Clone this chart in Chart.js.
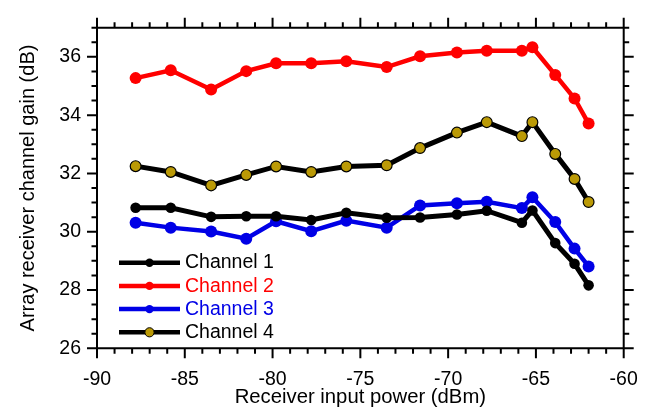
<!DOCTYPE html>
<html>
<head>
<meta charset="utf-8">
<script src="https://cdn.jsdelivr.net/npm/chart.js@4.4.1/dist/chart.umd.min.js"></script>
<style>
  html, body { margin: 0; padding: 0; background: #fff; }
  canvas { display: block; }
</style>
</head>
<body>
<canvas id="gainChart" width="657" height="414"></canvas>
<script>
// Receiver input power (dBm), shared by all channels
const powerIn = [-87.8, -85.8, -83.5, -81.5, -79.8, -77.8, -75.8, -73.5, -71.6, -69.5, -67.8, -65.8, -65.2, -63.9, -62.8, -62.0];

// Channel gain (dB)
const ch1 = [30.82, 30.82, 30.51, 30.53, 30.53, 30.40, 30.65, 30.48, 30.49, 30.59, 30.72, 30.31, 30.73, 29.61, 28.90, 28.16];
const ch2 = [35.27, 35.54, 34.88, 35.51, 35.78, 35.78, 35.85, 35.65, 36.02, 36.15, 36.21, 36.21, 36.33, 35.38, 34.57, 33.71];
const ch3 = [30.31, 30.14, 30.01, 29.76, 30.36, 30.02, 30.38, 30.14, 30.90, 30.98, 31.03, 30.81, 31.18, 30.33, 29.42, 28.81];
const ch4 = [32.25, 32.05, 31.59, 31.95, 32.24, 32.05, 32.24, 32.28, 32.87, 33.40, 33.76, 33.28, 33.76, 32.67, 31.81, 31.02];

const channelNames = ["Channel 1", "Channel 2", "Channel 3", "Channel 4"];
const labelColors = ["#000000", "#ff0000", "#0000e6", "#000000"];

const xRange = [-90, -60];
const yRange = [26, 37];

const FONT = "'Liberation Sans', Arial, sans-serif";

function toPoints(ys) {
  return ys.map((y, i) => ({ x: powerIn[i], y: y }));
}

function series(name, ys, lineColor, lineWidth, dotColor, dotBorder, dotBorderWidth, radius) {
  return {
    label: name,
    data: toPoints(ys),
    borderColor: lineColor,
    backgroundColor: dotColor,
    borderWidth: lineWidth,
    tension: 0,
    pointRadius: radius,
    pointBackgroundColor: dotColor,
    pointBorderColor: dotBorder,
    pointBorderWidth: dotBorderWidth,
    showLine: true,
  };
}

// frame with outward major/minor ticks on all four sides
const frameTicks = {
  id: "frameTicks",
  afterDraw(chart) {
    const { ctx, chartArea: a, scales } = chart;
    const x = scales.x, y = scales.y;
    ctx.save();
    ctx.strokeStyle = "#000";
    ctx.lineWidth = 2;
    ctx.beginPath();
    ctx.rect(a.left, a.top, a.right - a.left, a.bottom - a.top);
    for (let v = xRange[0]; v <= xRange[1]; v += 1) {
      const px = x.getPixelForValue(v);
      const len = v % 5 === 0 ? 10 : 5.5;
      ctx.moveTo(px, a.bottom); ctx.lineTo(px, a.bottom + len);
      ctx.moveTo(px, a.top); ctx.lineTo(px, a.top - len);
    }
    for (let v = yRange[0]; v <= yRange[1]; v += 0.5) {
      const py = y.getPixelForValue(v);
      const len = v % 2 === 0 ? 10 : 5.5;
      ctx.moveTo(a.left, py); ctx.lineTo(a.left - len, py);
      ctx.moveTo(a.right, py); ctx.lineTo(a.right + len, py);
    }
    ctx.stroke();
    ctx.restore();
  },
};

// legend: line sample with marker in the middle, coloured text
const lineLegend = {
  id: "lineLegend",
  afterDraw(chart) {
    const { ctx, chartArea: a } = chart;
    const x0 = a.left + 22, x1 = a.left + 83, xm = (x0 + x1) / 2;
    const top = a.bottom - 85.6;
    ctx.save();
    chart.data.datasets.forEach((ds, i) => {
      const yy = top + i * 23.2;
      ctx.strokeStyle = ds.borderColor;
      ctx.lineWidth = 4.5;
      ctx.beginPath();
      ctx.moveTo(x0, yy); ctx.lineTo(x1, yy);
      ctx.stroke();
      ctx.beginPath();
      ctx.arc(xm, yy, ds.pointBorderWidth > 0 ? 4.6 : 4.2, 0, Math.PI * 2);
      ctx.fillStyle = ds.pointBackgroundColor;
      ctx.fill();
      if (ds.pointBorderWidth > 0) {
        ctx.lineWidth = 1;
        ctx.strokeStyle = ds.pointBorderColor;
        ctx.stroke();
      }
      ctx.fillStyle = labelColors[i];
      ctx.font = "19.5px " + FONT;
      ctx.textBaseline = "middle";
      ctx.textAlign = "left";
      ctx.fillText(ds.label, x1 + 5, yy + 0.3);
    });
    ctx.restore();
  },
};

new Chart(document.getElementById("gainChart"), {
  type: "scatter",
  data: {
    datasets: [
      series(channelNames[0], ch1, "#000000", 5, "#000000", "#000000", 0, 5.3),
      series(channelNames[1], ch2, "#ff0000", 4.5, "#ff0000", "#ff0000", 0, 6),
      series(channelNames[2], ch3, "#0000e6", 4.5, "#0000e6", "#0000e6", 0, 6),
      series(channelNames[3], ch4, "#000000", 5, "#bb9a06", "#000000", 1.2, 5.4),
    ],
  },
  options: {
    responsive: false,
    animation: false,
    devicePixelRatio: 1,
    layout: { padding: { top: 20.7, right: 29, left: 0, bottom: 0 } },
    plugins: {
      legend: { display: false },
      tooltip: { enabled: false },
    },
    scales: {
      x: {
        type: "linear",
        position: "bottom",
        min: xRange[0],
        max: xRange[1],
        afterFit: (s) => { s.height = 414 - 348.3; },
        grid: { display: false, drawTicks: false },
        border: { display: false },
        ticks: {
          stepSize: 5,
          includeBounds: false,
          padding: 19.2,
          color: "#000",
          font: { family: FONT, size: 19.5 },
          maxRotation: 0,
        },
        title: {
          display: true,
          text: "Receiver input power (dBm)",
          color: "#000",
          font: { family: FONT, size: 20.3 },
          padding: { top: 0, bottom: 4.2 },
        },
      },
      y: {
        type: "linear",
        position: "left",
        min: yRange[0],
        max: yRange[1],
        afterFit: (s) => { s.width = 97; },
        grid: { display: false, drawTicks: false },
        border: { display: false },
        ticks: {
          stepSize: 2,
          includeBounds: false,
          padding: 16,
          color: "#000",
          font: { family: FONT, size: 19.5 },
        },
        title: {
          display: true,
          text: "Array receiver channel gain (dB)",
          color: "#000",
          font: { family: FONT, size: 20 },
          padding: { top: 16, bottom: 0 },
        },
      },
    },
  },
  plugins: [frameTicks, lineLegend],
});
</script>
</body>
</html>
